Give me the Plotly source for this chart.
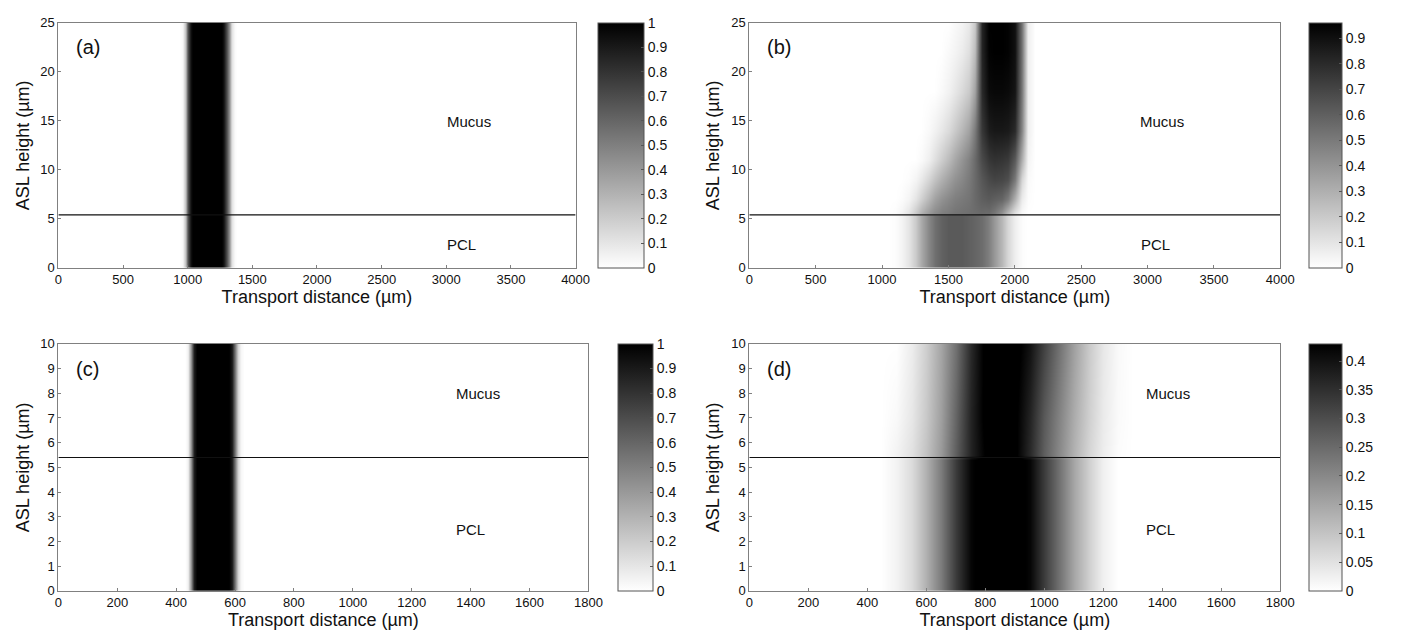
import plotly.graph_objects as go

# ---------------- data ----------------
interface_height = 5.4  # PCL / mucus boundary (µm)

# Panel (a): profile uniform over height
a_x = [900, 920, 940, 960, 980, 1000, 1020, 1040, 1060, 1080, 1100, 1120, 1140, 1160,
       1180, 1200, 1220, 1240, 1260, 1280, 1300, 1320, 1340, 1360, 1380, 1400, 1420]
a_conc = [0, 0, 0, 0.03, 0.25, 0.65, 0.93, 1, 1, 1, 1, 1, 1, 1,
          1, 1, 1, 1, 1, 0.93, 0.7, 0.4, 0.12, 0.02, 0, 0, 0]
a_y = [0, 25]

# Panel (b): 2-D field
b_x = [1000, 1050, 1100, 1150, 1200, 1250, 1300, 1350, 1400, 1450, 1500, 1550, 1600,
       1650, 1700, 1750, 1800, 1850, 1900, 1950, 2000, 2050, 2100, 2150, 2200]
b_y = [0, 5.3, 5.5, 7, 9, 11, 14, 18, 22, 25]
b_pcl = [0, 0, 0.01, 0.04, 0.1, 0.2, 0.33, 0.45, 0.54, 0.59, 0.62, 0.62, 0.62,
         0.6, 0.58, 0.55, 0.48, 0.38, 0.27, 0.15, 0.06, 0.01, 0, 0, 0]
b_y55 = [0, 0, 0.01, 0.04, 0.1, 0.2, 0.3, 0.38, 0.44, 0.48, 0.5, 0.52, 0.53,
         0.54, 0.55, 0.56, 0.55, 0.5, 0.4, 0.25, 0.1, 0.02, 0, 0, 0]
b_y7 = [0, 0, 0, 0.01, 0.04, 0.1, 0.18, 0.27, 0.35, 0.41, 0.45, 0.48, 0.5,
        0.52, 0.56, 0.6, 0.62, 0.6, 0.58, 0.5, 0.3, 0.07, 0.01, 0, 0]
b_y9 = [0, 0, 0, 0, 0.01, 0.04, 0.09, 0.16, 0.23, 0.3, 0.36, 0.41, 0.45,
        0.5, 0.56, 0.63, 0.68, 0.7, 0.69, 0.66, 0.5, 0.15, 0.02, 0, 0]
b_y11 = [0, 0, 0, 0, 0, 0, 0.02, 0.06, 0.12, 0.19, 0.26, 0.33, 0.4,
         0.47, 0.56, 0.68, 0.75, 0.77, 0.76, 0.74, 0.62, 0.3, 0.04, 0, 0]
b_y14 = [0, 0, 0, 0, 0, 0, 0, 0.02, 0.05, 0.09, 0.14, 0.2, 0.27,
         0.35, 0.5, 0.75, 0.85, 0.87, 0.87, 0.86, 0.8, 0.45, 0.06, 0, 0]
b_y18 = [0, 0, 0, 0, 0, 0, 0, 0, 0, 0.02, 0.05, 0.09, 0.14,
         0.2, 0.35, 0.8, 0.92, 0.93, 0.93, 0.92, 0.88, 0.5, 0.06, 0, 0]
b_y22 = [0, 0, 0, 0, 0, 0, 0, 0, 0, 0, 0.02, 0.04, 0.07,
         0.12, 0.25, 0.82, 0.95, 0.96, 0.96, 0.95, 0.9, 0.52, 0.06, 0, 0]
b_y25 = [0, 0, 0, 0, 0, 0, 0, 0, 0, 0, 0, 0.02, 0.04,
         0.08, 0.2, 0.82, 0.96, 0.96, 0.96, 0.95, 0.9, 0.52, 0.06, 0, 0]

# Panel (c): profile uniform over height
c_x = [400, 410, 420, 430, 440, 450, 460, 470, 480, 490, 500, 510, 520,
       530, 540, 550, 560, 570, 580, 590, 600, 610, 620, 630, 640, 650]
c_conc = [0, 0, 0, 0, 0.05, 0.4, 0.88, 1, 1, 1, 1, 1, 1,
          1, 1, 1, 1, 1, 1, 0.9, 0.55, 0.18, 0.03, 0, 0, 0]
c_y = [0, 10]

# Panel (d): 2-D field
d_x = [400, 450, 500, 550, 600, 650, 700, 750, 800, 850, 900, 950, 1000,
       1050, 1100, 1150, 1200, 1250, 1300, 1350]
d_y = [0, 5.3, 5.5, 7, 10]
d_pcl = [0, 0, 0.02, 0.06, 0.13, 0.22, 0.33, 0.42, 0.45, 0.46, 0.45, 0.42, 0.33,
         0.24, 0.15, 0.08, 0.025, 0, 0, 0]
d_y55 = [0, 0, 0.02, 0.05, 0.1, 0.17, 0.27, 0.37, 0.43, 0.46, 0.44, 0.36, 0.27,
         0.2, 0.13, 0.07, 0.03, 0.005, 0, 0]
d_y7 = [0, 0, 0.01, 0.04, 0.09, 0.16, 0.26, 0.37, 0.44, 0.46, 0.44, 0.37, 0.28,
        0.21, 0.14, 0.08, 0.035, 0.008, 0, 0]
d_top = [0, 0, 0, 0.03, 0.08, 0.15, 0.24, 0.36, 0.44, 0.46, 0.45, 0.4, 0.32,
         0.24, 0.16, 0.09, 0.04, 0.01, 0, 0]

x_ticks_long = [0, 500, 1000, 1500, 2000, 2500, 3000, 3500, 4000]
x_ticks_short = [0, 200, 400, 600, 800, 1000, 1200, 1400, 1600, 1800]
y_ticks_tall = [0, 5, 10, 15, 20, 25]
y_ticks_short = [0, 1, 2, 3, 4, 5, 6, 7, 8, 9, 10]
cbar_ticks_ac = [0, 0.1, 0.2, 0.3, 0.4, 0.5, 0.6, 0.7, 0.8, 0.9, 1]
cbar_ticks_b = [0, 0.1, 0.2, 0.3, 0.4, 0.5, 0.6, 0.7, 0.8, 0.9]
cbar_ticks_d = [0, 0.05, 0.1, 0.15, 0.2, 0.25, 0.3, 0.35, 0.4]
cmax = {"a": 1.0, "b": 0.96, "c": 1.0, "d": 0.43}
xmax = {"a": 4000, "b": 4000, "c": 1800, "d": 1800}
ymax = {"a": 25, "b": 25, "c": 10, "d": 10}
mucus_pos = {"a": (3176, 14.9), "b": (3108, 14.9), "c": (1424, 8.0), "d": (1418, 8.0)}
pcl_pos = {"a": (3120, 2.4), "b": (3056, 2.4), "c": (1398, 2.5), "d": (1395, 2.5)}

# ---------------- layout geometry (pixels in the 1403x640 page) ----------------
PAGE_W, PAGE_H = 1403, 640
BODY_MARGIN = 8  # default browser body margin
W, H = PAGE_W - 2 * BODY_MARGIN, PAGE_H - 2 * BODY_MARGIN
FONT = "Liberation Sans, Arial, sans-serif"

def px_x(p):
    return (p - BODY_MARGIN) / W

def px_y(p):
    return 1 - (p - BODY_MARGIN) / H

panels = {
    "a": dict(x0=55, x1=579, y0=16, y1=267, cb=602, cbw=46),
    "b": dict(x0=755, x1=1293, y0=16, y1=267, cb=1322, cbw=33),
    "c": dict(x0=55, x1=592, y0=345, y1=598, cb=622, cbw=35),
    "d": dict(x0=755, x1=1293, y0=345, y1=598, cb=1322, cbw=33),
}

gray = [[0, "#ffffff"], [1, "#000000"]]

fig = go.Figure()

fields = {
    "a": (a_x, a_y, [a_conc, a_conc]),
    "b": (b_x, b_y, [b_pcl, b_pcl, b_y55, b_y7, b_y9, b_y11, b_y14, b_y18, b_y22, b_y25]),
    "c": (c_x, c_y, [c_conc, c_conc]),
    "d": (d_x, d_y, [d_pcl, d_pcl, d_y55, d_y7, d_top]),
}
cb_ticks = {"a": cbar_ticks_ac, "b": cbar_ticks_b, "c": cbar_ticks_ac, "d": cbar_ticks_d}

axis_ids = {"a": ("x", "y"), "b": ("x2", "y2"), "c": ("x3", "y3"), "d": ("x4", "y4")}

for k, (xs, ys, zz) in fields.items():
    p = panels[k]
    xa, ya = axis_ids[k]
    fig.add_trace(go.Heatmap(
        x=xs, y=ys, z=zz, xaxis=xa, yaxis=ya,
        colorscale=gray, zmin=0, zmax=cmax[k], zsmooth="best",
        hoverinfo="skip",
        colorbar=dict(
            x=px_x(p["cb"]), xanchor="left", xpad=0, ypad=0,
            y=px_y(p["y1"]), yanchor="bottom",
            len=(p["y1"] - p["y0"]) / H, lenmode="fraction",
            thickness=p["cbw"], thicknessmode="pixels",
            outlinecolor="#555555", outlinewidth=1,
            tickvals=cb_ticks[k], ticks="inside", ticklen=3, tickcolor="#555555",
            tickfont=dict(family=FONT, size=14, color="#111111"),
        ),
    ))
    fig.add_trace(go.Scatter(
        x=[0, xmax[k]], y=[interface_height, interface_height], xaxis=xa, yaxis=ya,
        mode="lines", line=dict(color="#111111", width=1.2),
        showlegend=False, hoverinfo="skip",
    ))

layout = dict(
    width=W, height=H, margin=dict(l=0, r=0, t=0, b=0),
    paper_bgcolor="white", plot_bgcolor="white", showlegend=False,
    font=dict(family=FONT, color="#111111"),
)

xt = {"a": x_ticks_long, "b": x_ticks_long, "c": x_ticks_short, "d": x_ticks_short}
yt = {"a": y_ticks_tall, "b": y_ticks_tall, "c": y_ticks_short, "d": y_ticks_short}

annotations = []
for i, k in enumerate(["a", "b", "c", "d"]):
    p = panels[k]
    suffix = "" if i == 0 else str(i + 1)
    xa, ya = axis_ids[k]
    common = dict(showline=True, mirror=True, linecolor="#808080", linewidth=1,
                  ticks="inside", ticklen=3, tickcolor="#808080",
                  showgrid=False, zeroline=False,
                  tickfont=dict(family=FONT, size=13, color="#111111"))
    layout["xaxis" + suffix] = dict(
        domain=[px_x(p["x0"]), px_x(p["x1"])], anchor=ya, range=[0, xmax[k]],
        tickvals=xt[k],
        title=dict(text="Transport distance (µm)", standoff=3,
                   font=dict(family=FONT, size=18, color="#111111")),
        **common)
    layout["yaxis" + suffix] = dict(
        domain=[px_y(p["y1"]), px_y(p["y0"])], anchor=xa, range=[0, ymax[k]],
        tickvals=yt[k],
        title=dict(text="ASL height (µm)", standoff=6,
                   font=dict(family=FONT, size=18, color="#111111")),
        **common)
    annotations.append(dict(text="(" + k + ")", xref=xa + " domain", yref=ya + " domain",
                            x=0.03, y=0.9, xanchor="left", yanchor="middle", showarrow=False,
                            font=dict(family=FONT, size=20, color="#111111")))
    annotations.append(dict(text="Mucus", xref=xa, yref=ya, x=mucus_pos[k][0], y=mucus_pos[k][1],
                            showarrow=False, font=dict(family=FONT, size=15, color="#111111")))
    annotations.append(dict(text="PCL", xref=xa, yref=ya, x=pcl_pos[k][0], y=pcl_pos[k][1],
                            showarrow=False, font=dict(family=FONT, size=15, color="#111111")))

layout["annotations"] = annotations
fig.update_layout(**layout)

fig.write_html("out.html", config={"displayModeBar": False})
